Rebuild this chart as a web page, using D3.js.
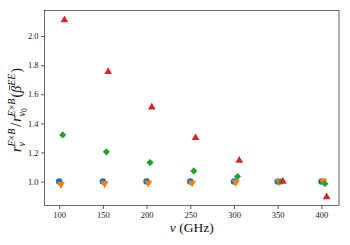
<!DOCTYPE html>
<html>
<head>
<meta charset="utf-8">
<script src="https://d3js.org/d3.v7.min.js"></script>
<style>
  body { margin: 0; background: #fff; }
  text { font-family: "Liberation Serif", "DejaVu Serif", serif; }
</style>
</head>
<body>
<script>
// frequencies (GHz)
var freqs = [100, 150, 200, 250, 300, 350, 400];
// ratio values, one array per series
var blueVals   = [1.0, 1.0, 1.0, 1.0, 1.0, 1.0, 1.0];
var orangeVals = [0.98, 0.985, 0.99, 0.99, 0.995, 1.0, 1.005];
var greenVals  = [1.32, 1.204, 1.13, 1.073, 1.034, 1.0, 0.985];
var redVals    = [2.11, 1.755, 1.51, 1.30, 1.144, 1.0, 0.893];
var xTicks = [100, 150, 200, 250, 300, 350, 400];
var yTicks = [1.0, 1.2, 1.4, 1.6, 1.8, 2.0];

var width = 350, height = 245;
var margin = {left: 44.5, right: 11, top: 10.5, bottom: 39.5};

var svg = d3.select("body").append("svg")
  .attr("width", width)
  .attr("height", height);

var x = d3.scaleLinear().domain([83.2, 420.1]).range([margin.left, width - margin.right]);
var y = d3.scaleLinear().domain([0.835, 2.176]).range([height - margin.bottom, margin.top]);

// series: values, x offset, symbol, colour, size, rotation
var series = [
  {vals: blueVals,   dx: 0, sym: d3.symbolCircle,   color: "#1f77b4", size: 34, rot: 0},
  {vals: orangeVals, dx: 2, sym: d3.symbolTriangle, color: "#ff7f0e", size: 28, rot: 180},
  {vals: greenVals,  dx: 4, sym: d3.symbolSquare,   color: "#2ca02c", size: 26, rot: 45},
  {vals: redVals,    dx: 6, sym: d3.symbolTriangle, color: "#d62728", size: 26, rot: 0}
];

series.forEach(function(s) {
  svg.append("g").selectAll("path")
    .data(s.vals)
    .enter()
    .append("path")
    .attr("d", d3.symbol().type(s.sym).size(s.size))
    .attr("transform", function(d, i) {
      return "translate(" + x(freqs[i] + s.dx) + "," + y(d) + ") rotate(" + s.rot + ")";
    })
    .attr("fill", s.color);
});

// axes
var xAxis = svg.append("g")
  .attr("transform", "translate(0," + (height - margin.bottom) + ")")
  .call(d3.axisBottom(x).tickValues(xTicks).tickSize(3.5).tickPadding(2.5).tickFormat(d3.format("d")));
var yAxis = svg.append("g")
  .attr("transform", "translate(" + margin.left + ",0)")
  .call(d3.axisLeft(y).tickValues(yTicks).tickSize(3.5).tickPadding(2.5).tickFormat(d3.format(".1f")));

[xAxis, yAxis].forEach(function(a) {
  a.select(".domain").remove();
  a.selectAll(".tick line").attr("stroke", "#333").attr("stroke-width", 0.8);
  a.selectAll(".tick text").attr("font-family", "Liberation Serif").attr("font-size", 8.5).attr("fill", "#222");
});

// frame
svg.append("rect")
  .attr("x", margin.left).attr("y", margin.top)
  .attr("width", width - margin.left - margin.right)
  .attr("height", height - margin.top - margin.bottom)
  .attr("fill", "none")
  .attr("stroke", "#444")
  .attr("stroke-width", 0.8);

// x label
var xl = svg.append("text")
  .attr("x", (margin.left + width - margin.right) / 2)
  .attr("y", 232)
  .attr("text-anchor", "middle")
  .attr("font-size", 13.5)
  .attr("fill", "#111");
xl.append("tspan").attr("font-style", "italic").text("ν");
xl.append("tspan").text(" (GHz)");

// y label, built piece by piece in a rotated frame
var yl = svg.append("g")
  .attr("transform", "translate(21,110) rotate(-90)");

var big = 14, small = 10, tiny = 7.5;
var cx = 0;

function piece(str, size, dy, italic) {
  var t = yl.append("text")
    .attr("x", cx).attr("y", dy)
    .attr("font-size", size)
    .attr("font-style", italic ? "italic" : "normal")
    .attr("fill", "#111")
    .text(str);
  return t;
}
function adv(t) { cx += t.node().getComputedTextLength(); }

function scriptPair(supParts, subParts) {
  var start = cx;
  var w1 = 0, w2 = 0;
  supParts.forEach(function(p) {
    var t = piece(p[0], small, -6, p[1]);
    w1 += t.node().getComputedTextLength();
    cx = start + w1;
  });
  cx = start;
  subParts.forEach(function(p) {
    var t = piece(p[0], p[2] || small, p[3] || 4, p[1]);
    w2 += t.node().getComputedTextLength();
    cx = start + w2;
  });
  cx = start + Math.max(w1, w2) + 1;
}

adv(piece("r", big, 0, true));
scriptPair([["E", true], ["×", false], ["B", true]], [["ν", true]]);
cx += 1;
adv(piece("/", big, 0, false));
cx += 1;
adv(piece("r", big, 0, true));
scriptPair([["E", true], ["×", false], ["B", true]], [["ν", true], ["0", false, tiny, 6]]);
adv(piece("(", big, 0, false));
var bx = cx;
var beta = piece("β", big, 0, true);
adv(beta);
yl.append("line")
  .attr("x1", bx + 2.5).attr("x2", cx + 0.5)
  .attr("y1", -11.5).attr("y2", -11.5)
  .attr("stroke", "#111").attr("stroke-width", 0.7);
var ee = piece("EE", small, -6, true);
adv(ee);
cx += 1;
adv(piece(")", big, 0, false));

// centre label along the axis
yl.selectAll("text, line").attr("transform", "translate(" + (-cx / 2) + ",0)");
</script>
</body>
</html>
